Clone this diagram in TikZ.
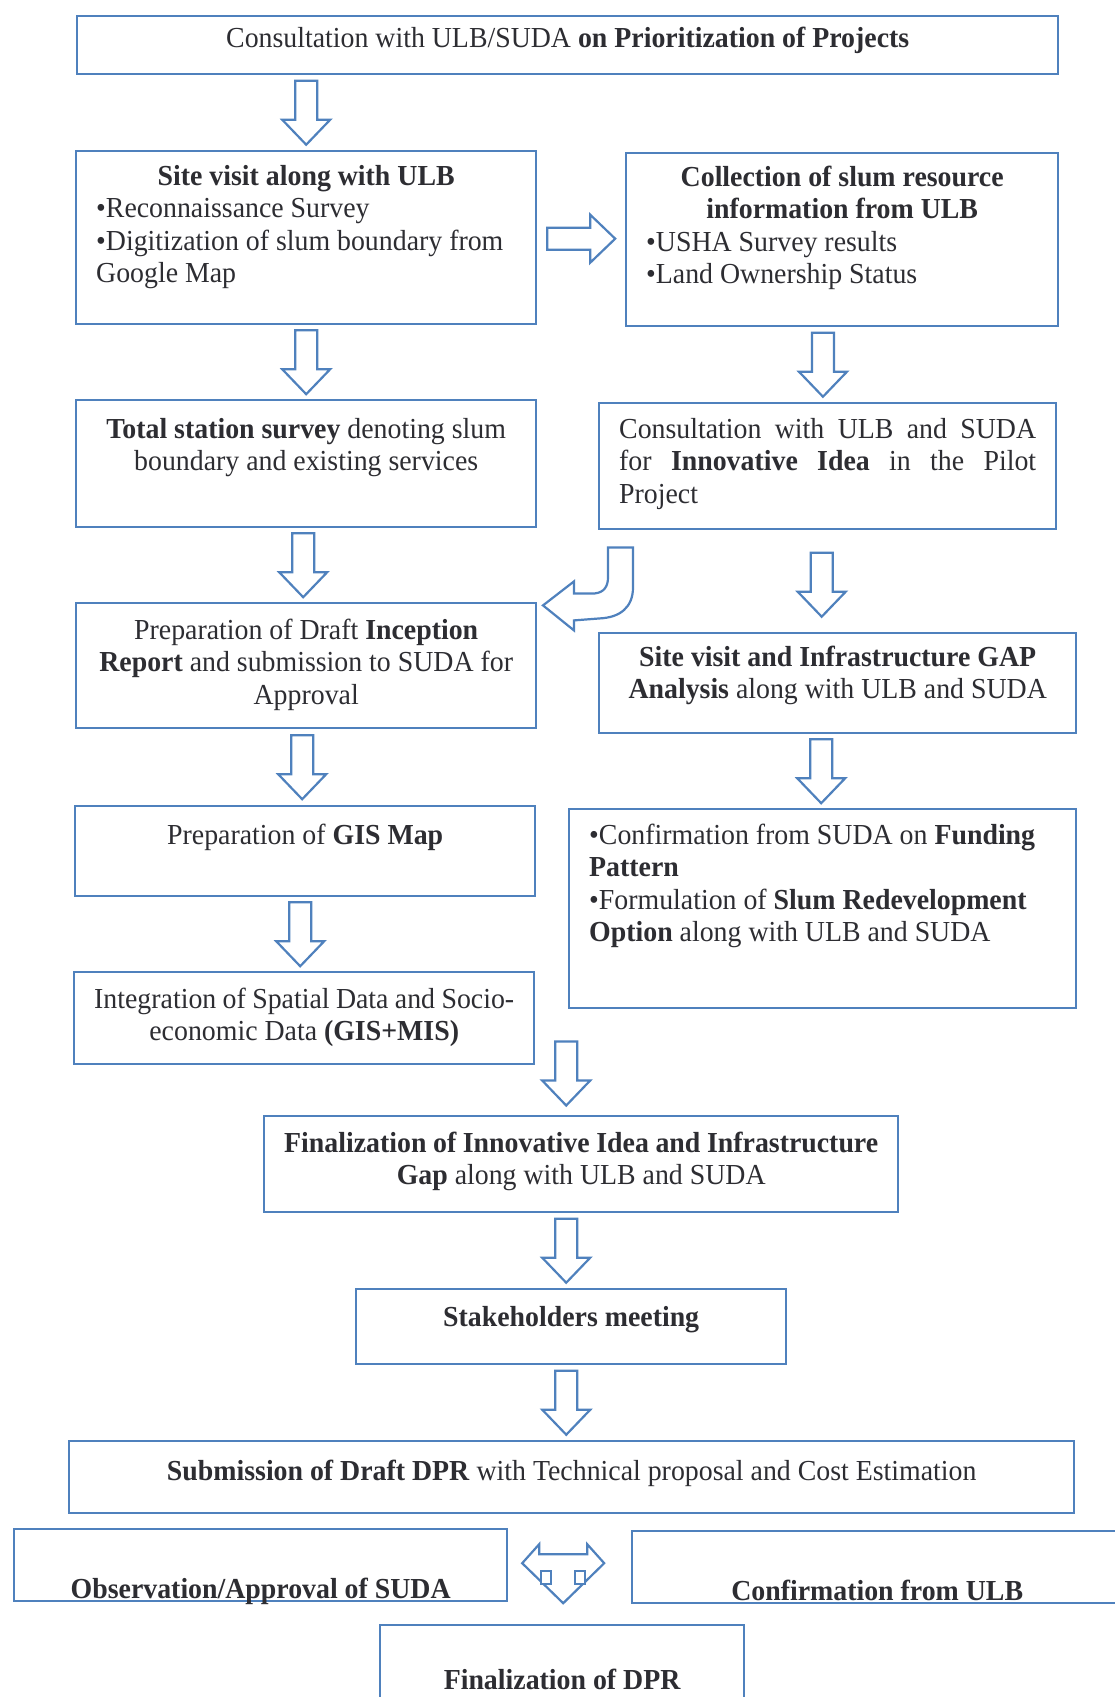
\documentclass[tikz,border=0pt]{standalone}
\usepackage{fontspec}
\setmainfont{Liberation Serif}[FakeStretch=0.96]
\usetikzlibrary{calc}
\definecolor{boxblue}{RGB}{79,129,189}
\definecolor{txtgray}{RGB}{45,45,50}
\newcommand{\stepbody}[5]{\parbox[c][#2][t]{#1}{#4\rule{0pt}{#3}#5}}
\tikzset{%
  stepbox/.style={
    draw=boxblue,
    line width=1.2pt,
    anchor=north west,
    inner xsep=10pt,
    inner ysep=0pt,
    text=txtgray
  },
  blockarrow/.style={
    draw=boxblue,
    line width=1.1pt,
    fill=white,
    line join=miter
  },
  downarr/.pic={
    \draw[blockarrow] (-11,-32) -- (11,-32) -- (11,7) -- (24,7) -- (0,32) -- (-24,7) -- (-11,7) -- cycle;
  },
  rightarr/.pic={
    \draw[blockarrow] (-34,-11) -- (9,-11) -- (9,-24) -- (34,0) -- (9,24) -- (9,11) -- (-34,11) -- cycle;
  },
  bendarr/.pic={
    \draw[blockarrow] (10,17) -- (35,17) -- (35,57) .. controls (35,77) and (22,87) .. (2,88) -- (-24,90) -- (-24,100) -- (-55,75) -- (-24,51) -- (-24,63) -- (-3,63) .. controls (6,62) and (10,56) .. (10,47) -- cycle;
  },
  splitarr/.pic={
    \draw[blockarrow] (-41,-3) -- (-24,-22) -- (-24,-12) -- (24,-12) -- (24,-22) -- (41,-3) -- (0,37) -- cycle;
    \draw[blockarrow] (-22,5) rectangle (-12,18) (12,5) rectangle (22,18);
  },
}

\begin{document}
\begin{tikzpicture}[x=0.5pt,y=-0.5pt,font=\fontsize{14.5}{16.25}\selectfont]
        \useasboundingbox (0,0) rectangle (1114,1697);
        \fill[white] (0,0) rectangle (1114,1697);

        \node[stepbox] (consult) at (76,15) {\stepbody{470.5pt}{29pt}{15.5pt}{\centering}{Consultation with ULB/SUDA \textbf{on Prioritization of Projects}}};
        \node[stepbox] (sitevisit) at (75,150) {\stepbody{210pt}{86.5pt}{17pt}{\centering}{\textbf{Site visit along with ULB}\par\raggedright •Reconnaissance Survey\\ •Digitization of slum boundary from\\ Google Map}};
        \node[stepbox] (collect) at (625,152) {\stepbody{196pt}{86.5pt}{16.5pt}{\centering}{\textbf{Collection of slum resource\\ information from ULB}\par\raggedright •USHA Survey results\\ •Land Ownership Status}};
        \node[stepbox] (total) at (75,399) {\stepbody{210pt}{63.5pt}{19pt}{\centering}{\textbf{Total station survey} denoting slum\\ boundary and existing services}};
        \node[stepbox] (innov) at (598,402) {\stepbody{208.5pt}{63pt}{17.5pt}{\relax}{Consultation with ULB and SUDA\linebreak for \textbf{Innovative Idea} in the Pilot\linebreak Project}};
        \node[stepbox] (draft) at (75,602) {\stepbody{210pt}{62.5pt}{18pt}{\centering}{Preparation of Draft \textbf{Inception}\\ \textbf{Report} and submission to SUDA for\\ Approval}};
        \node[stepbox] (gap) at (598,632) {\stepbody{218.5pt}{50pt}{16.5pt}{\centering}{\textbf{Site visit and Infrastructure GAP}\\ \textbf{Analysis} along with ULB and SUDA}};
        \node[stepbox] (gis) at (74,805) {\stepbody{210pt}{45pt}{19pt}{\centering}{Preparation of \textbf{GIS Map}}};
        \node[stepbox] (fund) at (568,808) {\stepbody{233.5pt}{99.5pt}{17.5pt}{\raggedright}{•Confirmation from SUDA on \textbf{Funding}\\ \textbf{Pattern}\\ •Formulation of \textbf{Slum Redevelopment}\\ \textbf{Option} along with ULB and SUDA}};
        \node[stepbox] (integ) at (73,971) {\stepbody{210pt}{46pt}{18pt}{\centering}{Integration of Spatial Data and Socio-\\ economic Data \textbf{(GIS+MIS)}}};
        \node[stepbox] (final) at (263,1115) {\stepbody{297pt}{48pt}{18pt}{\centering}{\textbf{Finalization of Innovative Idea and Infrastructure}\\ \textbf{Gap} along with ULB and SUDA}};
        \node[stepbox] (stake) at (355,1288) {\stepbody{195pt}{37.5pt}{18.5pt}{\centering}{\textbf{Stakeholders meeting}}};
        \node[stepbox] (submit) at (68,1440) {\stepbody{482.5pt}{36pt}{19.5pt}{\centering}{\textbf{Submission of Draft DPR} with Technical proposal and Cost Estimation}};
        \node[stepbox] (observe) at (13,1528) {\stepbody{226.5pt}{36pt}{34.5pt}{\centering}{\textbf{Observation/Approval of SUDA}}};
        \node[stepbox] (confirm) at (631,1530) {\stepbody{225pt}{36pt}{34.5pt}{\centering}{\textbf{Confirmation from ULB}}};
        \node[stepbox] (dpr) at (379,1624) {\stepbody{162pt}{46pt}{32pt}{\centering}{\textbf{Finalization of DPR}}};

        \pic at ($(consult.south -| sitevisit.north)!0.5!(sitevisit.north)$) {downarr};
        \pic at ($(sitevisit.east)!0.5!(collect.west)$) {rightarr};
        \pic at ($(sitevisit.south)!0.5!(total.north)$) {downarr};
        \pic[xshift=-6pt] at ($(collect.south)!0.5!(innov.north)$) {downarr};
        \pic[xshift=-1.5pt] at ($(total.south)!0.5!(draft.north)$) {downarr};
        \pic at (innov.south west) {bendarr};
        \pic[xshift=-5.5pt,yshift=-1.75pt] at ($(innov.south)!0.5!(gap.north)$) {downarr};
        \pic[xshift=-1.75pt] at ($(draft.south)!0.5!(gis.north)$) {downarr};
        \pic[xshift=-4.5pt] at ($(gap.south)!0.5!(fund.north)$) {downarr};
        \pic[xshift=-2.25pt] at ($(gis.south)!0.5!(integ.north)$) {downarr};
        \pic[xshift=-7.5pt,yshift=20.75pt] at (final.north) {downarr};
        \pic[xshift=-5pt] at ($(final.south)!0.5!(stake.north)$) {downarr};
        \pic[xshift=-2.6pt] at ($(stake.south)!0.5!(submit.north)$) {downarr};
        \pic[xshift=-3.25pt] at ($(observe.east)!0.5!(confirm.west)$) {splitarr};
    \end{tikzpicture}
\end{document}
